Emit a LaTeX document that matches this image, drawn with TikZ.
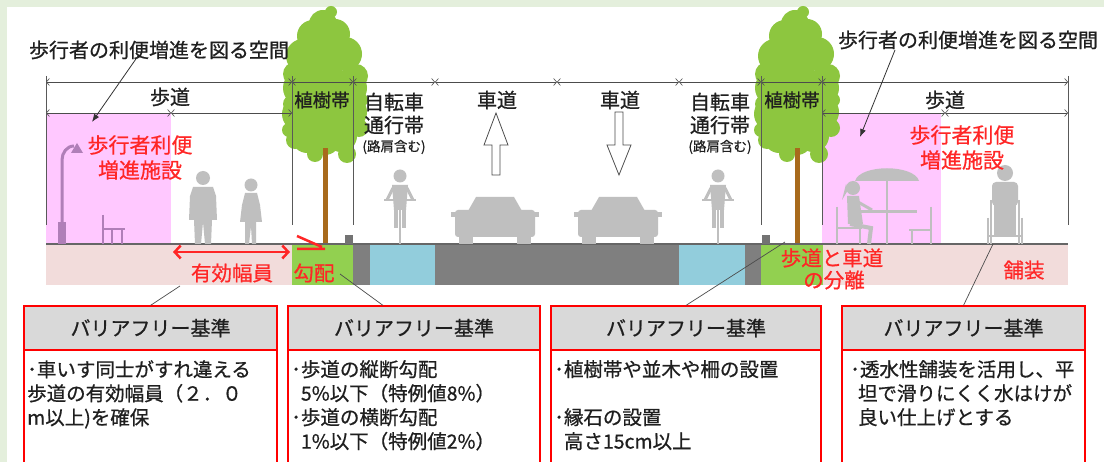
\documentclass[tikz,border=0pt]{standalone}
\usepackage{fontspec}
\setmainfont{Noto Sans CJK JP}[RawFeature={embolden=0.7}]
\usetikzlibrary{arrows.meta}

\definecolor{bggreen}{HTML}{E4EFDC}
\definecolor{leaf}{HTML}{8DC63F}
\definecolor{bandgreen}{HTML}{92D050}
\definecolor{walkpink}{HTML}{F2DCDB}
\definecolor{facpink}{HTML}{FFC8FF}
\definecolor{asphalt}{HTML}{7F7F7F}
\definecolor{bikeblue}{HTML}{92CDDC}
\definecolor{figgray}{HTML}{BFBFBF}
\definecolor{trunk}{HTML}{A86A1C}
\definecolor{lamp}{HTML}{B07FB8}
\definecolor{hdrgray}{HTML}{D9D9D9}
\definecolor{redtxt}{HTML}{FF2626}

\newcommand{\jsize}[1]{\fontsize{#1}{#1}\selectfont}

\begin{document}
\begin{tikzpicture}[x=1pt,y=-1pt]

\tikzset{lbl/.style = {font=\jsize{20}, text=black!88, inner sep=0}}
\tikzset{smalllbl/.style = {font=\jsize{13.5}, text=black!88, inner sep=0}}
\tikzset{redlbl/.style = {font=\jsize{20.5}, text=redtxt, inner sep=0}}
\tikzset{dimline/.style = {draw=black!70, line width=0.6pt, >={Straight Barb[length=3pt,width=7pt]}, <->}}
\tikzset{extline/.style = {draw=black!65, line width=0.8pt}}
\tikzset{leader/.style = {draw=black!70, line width=0.7pt}}
\tikzset{hdr/.style = {draw=red, line width=1.2pt, fill=hdrgray, minimum height=44pt, font=\jsize{20}, text=black!88}}
\tikzset{body/.style = {anchor=north west, inner sep=0, align=left, font=\fontsize{19.5}{24}\selectfont, text=black!88}}

\useasboundingbox (0,0) rectangle (1104,462);

% frame
\fill[bggreen] (0,0) rectangle (1104,462);
\fill[white] (7,7) rectangle (1104,462);

% facility areas
\fill[facpink] (46,113) rectangle (171,244);
\fill[facpink] (822,113) rectangle (941,244);

% cross section
\fill[walkpink] (46,244) rectangle (292,285);
\fill[bandgreen] (292,244) rectangle (353,285);
\fill[asphalt] (353,244) rectangle (370,285);
\fill[bikeblue] (370,244) rectangle (435,285);
\fill[asphalt] (435,244) rectangle (679,285);
\fill[bikeblue] (679,244) rectangle (745,285);
\fill[asphalt] (745,244) rectangle (761,285);
\fill[bandgreen] (761,244) rectangle (823,285);
\fill[walkpink] (823,244) rectangle (1068,285);

% trees
\foreach \tx in {325,797} {
  \foreach \dx/\ty/\r in {-2/24/14, -12/36/16, 10/34/15, -22/56/17, 20/54/17, 0/52/20,
      -30/74/12, 31/76/12, -24/88/18, 24/88/18, 0/84/22, -26/114/17, 25/112/17, 0/112/21,
      -33/104/9, 34/128/9, -18/138/15, 16/136/16, 0/140/15, -30/140/9, -10/154/8,
      22/154/9, 36/100/7, -36/130/7, 6/12/6}
    \fill[leaf] ({\tx+(\dx)},\ty) circle[radius=\r pt];
  \fill[trunk] ({\tx-2.5},148) rectangle ({\tx+2.5},244);
}

% ground and curbs
\draw[black!60, line width=1.2pt] (46,244) -- (1068,244);
\fill[black!55] (345,235) rectangle (353,244);
\fill[black!55] (762,235) rectangle (770,244);

% dimension lines
\foreach \x [count=\i] in {46,292,353,435,557,679,761,822,1068}
  \coordinate (t\i) at (\x,82);
\foreach \i/\j in {1/2,2/3,3/4,4/5,5/6,6/7,7/8,8/9}
  \draw[dimline] (t\i) -- (t\j);
\coordinate (s1) at (46,113);
\coordinate (s2) at (171,113);
\coordinate (s3) at (292,113);
\coordinate (s4) at (822,113);
\coordinate (s5) at (945,113);
\coordinate (s6) at (1068,113);
\foreach \i/\j in {1/2,2/3,4/5,5/6}
  \draw[dimline] (s\i) -- (s\j);
\foreach \x in {46,292,353,761,822,1068}
  \draw[extline] (\x,76) -- (\x,225);

% band labels
\node[lbl] (walkL) at (170,97) {歩道};
\node[lbl, font=\jsize{18.5}] (treeL) at (322,100) {植樹帯};
\node[lbl] (bikeL) at (394,102) {自転車};
\node[lbl] at (394,125) {通行帯};
\node[smalllbl] at (394,147) {(路肩含む)};
\node[lbl] (carL) at (497,100) {車道};
\node[lbl] (carR) at (620,100) {車道};
\node[lbl] (bikeR) at (720,102) {自転車};
\node[lbl] at (720,125) {通行帯};
\node[smalllbl] at (720,147) {(路肩含む)};
\node[lbl, font=\jsize{18.5}] (treeR) at (792,100) {植樹帯};
\node[lbl] (walkR) at (945,100) {歩道};

% lane arrows
\draw[black!70, line width=0.8pt, fill=white] (492,175) -- (492,145) -- (484,145) -- (496,113)
  -- (508,145) -- (500,145) -- (500,175) -- cycle;
\draw[black!70, line width=0.8pt, fill=white] (615,112) -- (615,145) -- (607,145) -- (619,175)
  -- (631,145) -- (623,145) -- (623,112) -- cycle;

% street lamp and bench
\draw[lamp, line width=3pt] (62,244) -- (62,160) to[out=90,in=180] (74,146);
\fill[lamp] (58,222) rectangle (66,244);
\fill[lamp] (71,153) -- (77,143) -- (83,153) -- cycle;
\draw[lamp, line width=2pt] (103,215) -- (103,244) (103,229) -- (125,229)
  (112,229) -- (112,244) (122,229) -- (122,244);

% pedestrians
\fill[figgray] (203,178) circle[radius=7pt];
\fill[figgray] (193,187) -- (213,187) -- (216,196) -- (217,220) -- (212,220) -- (211,244)
  -- (205,244) -- (203,222) -- (201,244) -- (195,244) -- (194,220) -- (189,220) -- (190,196) -- cycle;
\fill[figgray] (251,185) circle[radius=6.5pt];
\fill[figgray] (245,193) -- (257,193) -- (260,205) -- (262,222) -- (256,222) -- (256,244)
  -- (252,244) -- (251,226) -- (249,244) -- (245,244) -- (245,222) -- (240,222) -- (242,205) -- cycle;

% cyclists
\foreach \cx in {400,718} {
  \fill[figgray] (\cx,176) circle[radius=6.5pt];
  \fill[figgray] ({\cx-8},185) -- ({\cx+8},185) -- ({\cx+6},210) -- ({\cx-6},210) -- cycle;
  \draw[figgray, line width=3pt] ({\cx-7},188) -- ({\cx-13},200) ({\cx+7},188) -- ({\cx+13},200);
  \draw[figgray, line width=2pt] ({\cx-16},200) -- ({\cx+16},200);
  \draw[figgray, line width=4pt] ({\cx-4},208) -- ({\cx-4},228) ({\cx+4},208) -- ({\cx+4},228);
  \draw[figgray, line width=2.5pt] (\cx,205) -- (\cx,244);
}

% cars
\foreach \cx in {495,618} {
  \fill[figgray] ({\cx-27},211) -- ({\cx-19},197) -- ({\cx+19},197) -- ({\cx+27},211) -- cycle;
  \fill[figgray, rounded corners=3pt] ({\cx-40},210) rectangle ({\cx+40},237);
  \fill[figgray] ({\cx-36},230) rectangle ({\cx-22},244);
  \fill[figgray] ({\cx+22},230) rectangle ({\cx+36},244);
  \fill[figgray] ({\cx-44},212) rectangle ({\cx-38},217);
  \fill[figgray] ({\cx+38},212) rectangle ({\cx+44},217);
}

% cafe table
\fill[figgray] (855,181) .. controls (860,164) and (914,164) .. (919,181) -- cycle;
\draw[figgray, line width=2pt] (887,180) -- (887,244);
\draw[figgray, line width=3pt] (860,212) -- (917,212);
\draw[figgray, line width=2.5pt] (837,207) -- (837,244) (837,228) -- (862,228) (860,228) -- (860,244);
\draw[figgray, line width=2.5pt] (931,207) -- (931,244) (909,230) -- (931,230) (912,230) -- (912,244);
\fill[figgray] (853,188) circle[radius=7pt];
\fill[figgray] (846,184) -- (842,200) -- (848,190) -- cycle;
\fill[figgray] (847,196) -- (859,196) -- (863,224) -- (848,224) -- cycle;
\draw[figgray, line width=3pt] (858,202) -- (872,210);
\draw[figgray, line width=4pt] (850,224) -- (871,228) -- (869,244);

% wheelchair user
\fill[figgray] (1005,173) circle[radius=8pt];
\fill[figgray, rounded corners=4pt] (992,182) rectangle (1018,206);
\fill[figgray] (994,204) rectangle (1016,236);
\draw[figgray, line width=1.3pt] (988,218) -- (988,244) (1022,218) -- (1022,244)
  (991,200) -- (991,244) (1019,200) -- (1019,244) (988,236) -- (1022,236);

% red notes
\node[redlbl, font=\jsize{21}] (facL1) at (140,145) {歩行者利便};
\node[redlbl, font=\jsize{21}] (facL2) at (140,170) {増進施設};
\node[redlbl, font=\jsize{21}] (facR1) at (962,135) {歩行者利便};
\node[redlbl, font=\jsize{21}] (facR2) at (962,160) {増進施設};
\node[redlbl] (eff) at (232,273) {有効幅員};
\node[redlbl] (slope) at (314,273) {勾配};
\node[redlbl] (sep1) at (832,258) {歩道と車道};
\node[redlbl] (sep2) at (834,280) {の分離};
\node[redlbl] (pave) at (1024,270) {舗装};
\draw[redtxt, line width=2.5pt, >={Straight Barb[length=6pt,width=13pt]}, <->] (173,252) -- (290,252);
\draw[redtxt, line width=2.5pt] (297,236) -- (322,247) (297,249) -- (325,249);

% criteria boxes
\foreach \n/\xl/\xr in {1/24/277, 2/288/540, 3/551/821, 4/842/1085} {
  \draw[red, line width=1.2pt, fill=white] (\xl,350) rectangle (\xr,475);
  \node[hdr, minimum width={\xr-\xl}] (h\n) at ({(\xl+\xr)/2},328) {バリアフリー基準};
}
\node[body] (b1) at (27,360) {･車いす同士がすれ違える\\歩道の有効幅員（２．０\\m以上)を確保};
\node[body] (b2) at (291,360) {･歩道の縦断勾配\\\hspace{0.5em}5\%以下（特例値8\%）\\･歩道の横断勾配\\\hspace{0.5em}1\%以下（特例値2\%）};
\node[body] (b3) at (554,360) {･植樹帯や並木や柵の設置\\[24pt]･縁石の設置\\\hspace{0.5em}高さ15cm以上};
\node[body] (b4) at (850,360) {･透水性舗装を活用し、平\\\hspace{0.4em}坦で滑りにくく水はけが\\\hspace{0.4em}良い仕上げとする};

% leaders
\coordinate (effend) at (180,286);
\coordinate (slopeend) at (340,274);
\coordinate (sepend) at (785,242);
\coordinate (paveend) at (993,244);
\draw[leader] (effend) -- (h1.north);
\draw[leader] (slopeend) -- ([xshift=-31pt]h2.north);
\draw[leader] (sepend) -- (h3.north);
\draw[leader] (paveend) -- (h4.north);

% space notes
\node[lbl] (spaceL) at (159,50) {歩行者の利便増進を図る空間};
\node[lbl] (spaceR) at (968,40) {歩行者の利便増進を図る空間};
\coordinate (spaceLtip) at (92,122);
\coordinate (spaceRtip) at (860,137);
\draw[black!80, line width=0.8pt, -{Latex[length=8pt,width=6pt]}] (138,56) -- (spaceLtip);
\draw[black!80, line width=0.8pt, -{Latex[length=8pt,width=6pt]}] (895,50) -- (spaceRtip);

\end{tikzpicture}
\end{document}
